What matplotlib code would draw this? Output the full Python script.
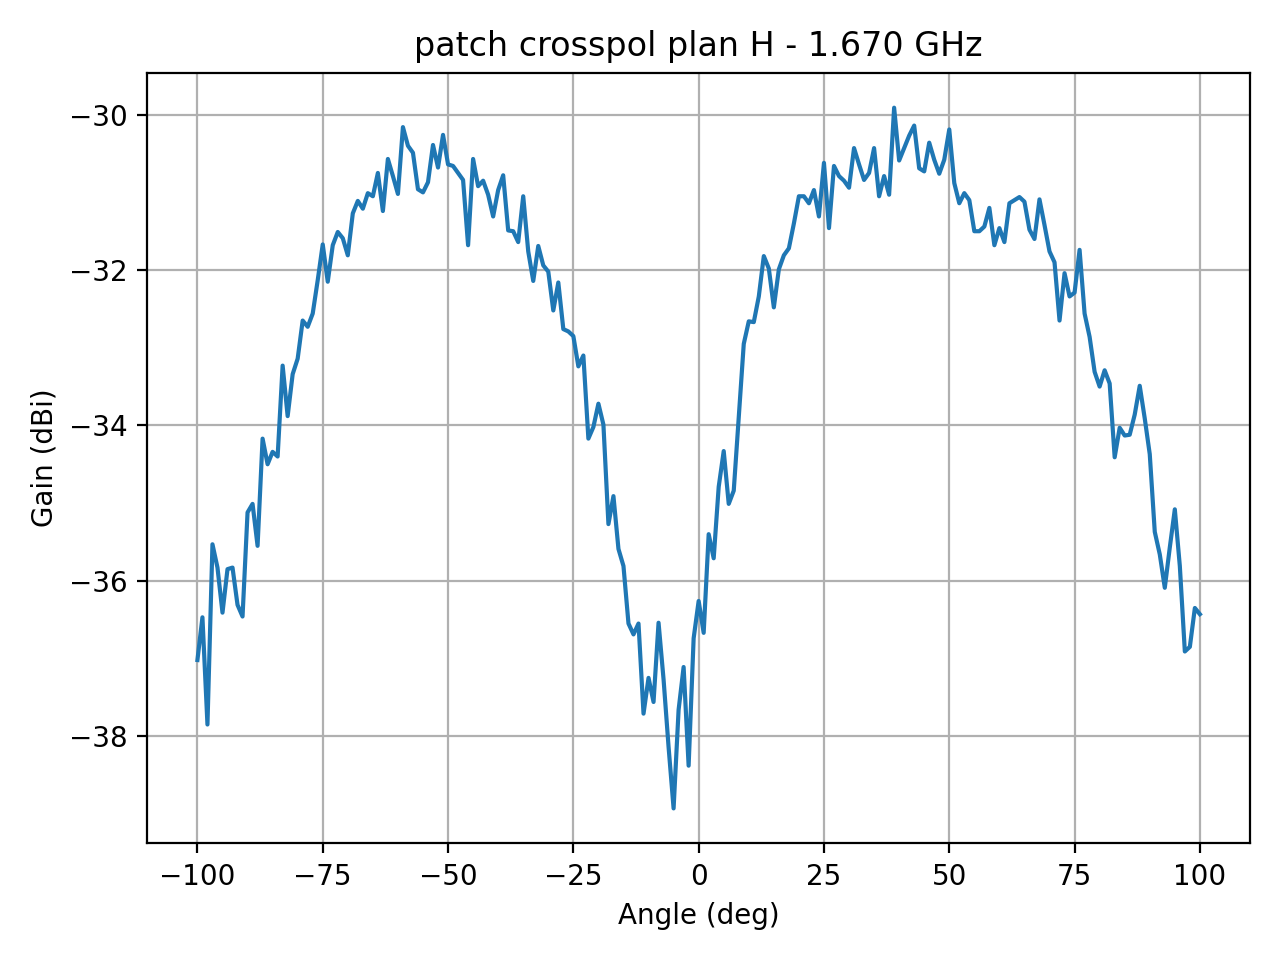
import numpy as np
import matplotlib
matplotlib.use("Agg")
import matplotlib.pyplot as plt

# angles -100..100 deg, 1 deg step
angles = np.arange(-100, 101, 1)

gain = [
    -37.02, -36.47, -37.85, -35.53, -35.83, -36.41, -35.85, -35.83, -36.31, -36.46,
    -35.12, -35.01, -35.55, -34.17, -34.50, -34.34, -34.40, -33.23, -33.88, -33.34,
    -33.14, -32.65, -32.73, -32.56, -32.13, -31.67, -32.15, -31.68, -31.51, -31.59,
    -31.81, -31.27, -31.11, -31.21, -31.01, -31.05, -30.75, -31.24, -30.57, -30.79,
    -31.02, -30.16, -30.40, -30.49, -30.96, -31.00, -30.87, -30.39, -30.68, -30.26,
    -30.64, -30.66, -30.75, -30.84, -31.68, -30.57, -30.92, -30.85, -31.03, -31.31,
    -30.97, -30.78, -31.49, -31.50, -31.64, -31.05, -31.76, -32.14, -31.69, -31.94,
    -32.02, -32.52, -32.16, -32.76, -32.79, -32.85, -33.24, -33.10, -34.17, -34.02,
    -33.72, -33.99, -35.27, -34.91, -35.59, -35.81, -36.55, -36.69, -36.55, -37.71,
    -37.25, -37.56, -36.54, -37.27, -38.14, -38.93, -37.66, -37.11, -38.38, -36.74,
    -36.26,
    -36.67, -35.40, -35.71, -34.79, -34.33, -35.01, -34.84, -33.90, -32.95, -32.66,
    -32.67, -32.34, -31.82, -31.98, -32.48, -31.99, -31.81, -31.72, -31.40, -31.05,
    -31.05, -31.14, -30.97, -31.31, -30.62, -31.46, -30.66, -30.79, -30.85, -30.94,
    -30.43, -30.64, -30.84, -30.75, -30.43, -31.05, -30.79, -31.03, -29.91, -30.59,
    -30.43, -30.27, -30.14, -30.69, -30.73, -30.36, -30.58, -30.76, -30.58, -30.19,
    -30.88, -31.14, -31.01, -31.10, -31.50, -31.50, -31.44, -31.20, -31.68, -31.46,
    -31.64, -31.14, -31.10, -31.06, -31.12, -31.48, -31.60, -31.09, -31.42, -31.76,
    -31.90, -32.65, -32.04, -32.34, -32.29, -31.74, -32.56, -32.86, -33.31, -33.50,
    -33.29, -33.46, -34.41, -34.03, -34.13, -34.12, -33.86, -33.49, -33.91, -34.37,
    -35.37, -35.66, -36.09, -35.57, -35.08, -35.81, -36.91, -36.85, -36.35, -36.43,
]

fig, ax = plt.subplots(figsize=(6.4, 4.8), dpi=200)
ax.plot(angles, gain)
ax.set_title("patch crosspol plan H - 1.670 GHz")
ax.set_xlabel("Angle (deg)")
ax.set_ylabel("Gain (dBi)")
ax.grid(True)
fig.tight_layout()
fig.savefig("out.png")
